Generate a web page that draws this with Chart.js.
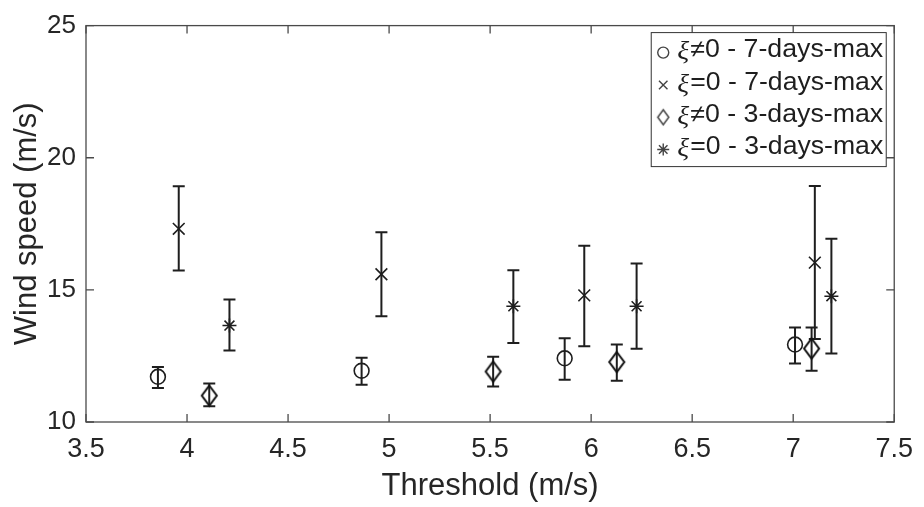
<!DOCTYPE html>
<html>
<head>
<meta charset="utf-8">
<script src="https://cdn.jsdelivr.net/npm/chart.js@4.4.0/dist/chart.umd.min.js"></script>
<style>
  html, body { margin: 0; padding: 0; background: #fff; }
</style>
</head>
<body>
<canvas id="chart" width="924" height="507"></canvas>
<script>
// xi != 0, 7-days-max (circles)
const xNe7 = [3.856, 4.864, 5.869, 7.009];
const yNe7 = [11.71, 11.94, 12.41, 12.93];
const loNe7 = [11.29, 11.41, 11.60, 12.21];
const hiNe7 = [12.08, 12.43, 13.17, 13.58];

// xi = 0, 7-days-max (crosses)
const xEq7 = [3.959, 4.962, 5.966, 7.107];
const yEq7 = [17.31, 15.59, 14.79, 16.03];
const loEq7 = [15.73, 14.00, 12.87, 13.14];
const hiEq7 = [18.92, 17.18, 16.67, 18.93];

// xi != 0, 3-days-max (diamonds)
const xNe3 = [4.110, 5.515, 6.127, 7.091];
const yNe3 = [11.00, 11.91, 12.27, 12.78];
const loNe3 = [10.60, 11.34, 11.56, 11.94];
const hiNe3 = [11.46, 12.47, 12.93, 13.58];

// xi = 0, 3-days-max (asterisks)
const xEq3 = [4.210, 5.615, 6.225, 7.189];
const yEq3 = [13.65, 14.38, 14.38, 14.76];
const loEq3 = [12.71, 12.99, 12.77, 12.59];
const hiEq3 = [14.64, 15.74, 16.00, 16.93];

const legendXi = ['≠0 - 7-days-max', '=0 - 7-days-max', '≠0 - 3-days-max', '=0 - 3-days-max'];

const ink = '#1e1e1e';
const textColor = '#262626';

function makeDiamond(w, h, lw, color) {
  const c = document.createElement('canvas');
  c.width = w + 6; c.height = h + 6;
  const g = c.getContext('2d');
  const cx = c.width / 2, cy = c.height / 2;
  g.strokeStyle = color;
  g.lineWidth = lw;
  g.beginPath();
  g.moveTo(cx, cy - h / 2);
  g.lineTo(cx + w / 2, cy);
  g.lineTo(cx, cy + h / 2);
  g.lineTo(cx - w / 2, cy);
  g.closePath();
  g.stroke();
  return c;
}

const diamond = makeDiamond(15, 20, 2, '#111');
const diamondSmall = makeDiamond(11, 15, 1.5, '#444');

function pts(xs, ys) {
  return xs.map((x, i) => ({x: x, y: ys[i]}));
}

const errorBars = {
  id: 'errorBars',
  beforeDatasetsDraw(chart) {
    const {ctx, scales: {x, y}} = chart;
    ctx.save();
    ctx.strokeStyle = ink;
    ctx.lineWidth = 2;
    chart.data.datasets.forEach(ds => {
      ds.data.forEach((p, i) => {
        const px = x.getPixelForValue(p.x);
        const top = y.getPixelForValue(ds.errHi[i]);
        const bot = y.getPixelForValue(ds.errLo[i]);
        ctx.beginPath();
        ctx.moveTo(px, top); ctx.lineTo(px, bot);
        ctx.moveTo(px - 6, top); ctx.lineTo(px + 6, top);
        ctx.moveTo(px - 6, bot); ctx.lineTo(px + 6, bot);
        ctx.stroke();
      });
    });
    ctx.restore();
  }
};

const frame = {
  id: 'frame',
  beforeDraw(chart) {
    const ctx = chart.ctx;
    ctx.save();
    ctx.fillStyle = '#fff';
    ctx.fillRect(0, 0, chart.width, chart.height);
    ctx.restore();
  },
  afterDraw(chart) {
    const {ctx, chartArea: a, scales: {x, y}} = chart;
    ctx.save();
    ctx.strokeStyle = '#4a4a4a';
    ctx.lineWidth = 1.3;
    ctx.strokeRect(a.left, a.top, a.right - a.left, a.bottom - a.top);
    ctx.beginPath();
    x.ticks.forEach(t => {
      const px = x.getPixelForValue(t.value);
      ctx.moveTo(px, a.bottom); ctx.lineTo(px, a.bottom - 8);
      ctx.moveTo(px, a.top); ctx.lineTo(px, a.top + 8);
    });
    y.ticks.forEach(t => {
      const py = y.getPixelForValue(t.value);
      ctx.moveTo(a.left, py); ctx.lineTo(a.left + 8, py);
      ctx.moveTo(a.right, py); ctx.lineTo(a.right - 8, py);
    });
    ctx.stroke();

    // legend box, top right inside the axes
    const bx = a.right - 243, by = a.top + 7, bw = 235, bh = 134;
    ctx.fillStyle = '#fff';
    ctx.fillRect(bx, by, bw, bh);
    ctx.strokeStyle = '#333';
    ctx.lineWidth = 1;
    ctx.strokeRect(bx, by, bw, bh);

    chart.data.datasets.forEach((ds, i) => {
      const cy = by + 18 + i * 32.3;
      const mx = bx + 12;
      ctx.strokeStyle = '#444';
      ctx.fillStyle = 'rgba(0,0,0,0)';
      ctx.lineWidth = 1.4;
      const style = ds.pointStyle === diamond ? diamondSmall : ds.pointStyle;
      Chart.helpers.drawPoint(ctx, {pointStyle: style, radius: ds.legendRadius, rotation: 0, borderWidth: 1.4}, mx, cy + 2);

      // text is a little wider than the font gives, stretch to fit the box
      const xiFont = 'italic 26px "Liberation Serif"';
      const restFont = '25px "Liberation Sans"';
      ctx.font = xiFont;
      const wXi = ctx.measureText('ξ').width + 1;
      ctx.font = restFont;
      const wRest = ctx.measureText(legendXi[i]).width;
      const sx = 206 / (wXi + wRest);

      ctx.save();
      ctx.translate(bx + 26, 0);
      ctx.scale(sx, 1);
      ctx.fillStyle = ink;
      ctx.textBaseline = 'middle';
      ctx.textAlign = 'left';
      ctx.font = xiFont;
      ctx.fillText('ξ', 0, cy + 2);
      ctx.font = restFont;
      ctx.fillText(legendXi[i], wXi, cy);
      ctx.restore();
    });
    ctx.restore();
  }
};

new Chart(document.getElementById('chart'), {
  type: 'scatter',
  data: {
    datasets: [
      {label: 'ξ≠0 - 7-days-max', data: pts(xNe7, yNe7), errLo: loNe7, errHi: hiNe7,
        pointStyle: 'circle', pointRadius: 7.4, legendRadius: 5.5},
      {label: 'ξ=0 - 7-days-max', data: pts(xEq7, yEq7), errLo: loEq7, errHi: hiEq7,
        pointStyle: 'crossRot', pointRadius: 8.3, legendRadius: 6},
      {label: 'ξ≠0 - 3-days-max', data: pts(xNe3, yNe3), errLo: loNe3, errHi: hiNe3,
        pointStyle: diamond, pointRadius: 8, legendRadius: 6},
      {label: 'ξ=0 - 3-days-max', data: pts(xEq3, yEq3), errLo: loEq3, errHi: hiEq3,
        pointStyle: 'star', pointRadius: 7, legendRadius: 6}
    ].map(ds => Object.assign(ds, {
      borderColor: ink,
      backgroundColor: 'rgba(0,0,0,0)',
      borderWidth: 1.6,
      pointHoverRadius: ds.pointRadius,
      showLine: false
    }))
  },
  options: {
    responsive: false,
    devicePixelRatio: 1,
    animation: false,
    layout: {padding: {left: 0, top: 19, right: 25, bottom: 0}},
    plugins: {
      legend: {display: false},
      tooltip: {enabled: false}
    },
    scales: {
      x: {
        type: 'linear',
        min: 3.5,
        max: 7.5,
        afterFit(s) { s.height = 85; },
        grid: {display: false, drawTicks: false},
        border: {display: false},
        ticks: {stepSize: 0.5, autoSkip: false, maxRotation: 0, padding: 11,
          callback: v => String(v),
          color: textColor, font: {family: 'Liberation Sans', size: 27}},
        title: {display: true, text: 'Threshold (m/s)', color: textColor,
          font: {family: 'Liberation Sans', size: 31}, padding: {top: 0, bottom: 2}}
      },
      y: {
        type: 'linear',
        min: 10,
        max: 25,
        afterFit(s) { s.width = 86; },
        grid: {display: false, drawTicks: false},
        border: {display: false},
        ticks: {stepSize: 5, padding: 10, callback: v => String(v),
          color: textColor, font: {family: 'Liberation Sans', size: 26}},
        title: {display: true, text: 'Wind speed (m/s)', color: textColor,
          font: {family: 'Liberation Sans', size: 31}, padding: {top: 9, bottom: 0}}
      }
    }
  },
  plugins: [frame, errorBars]
});
</script>
</body>
</html>
